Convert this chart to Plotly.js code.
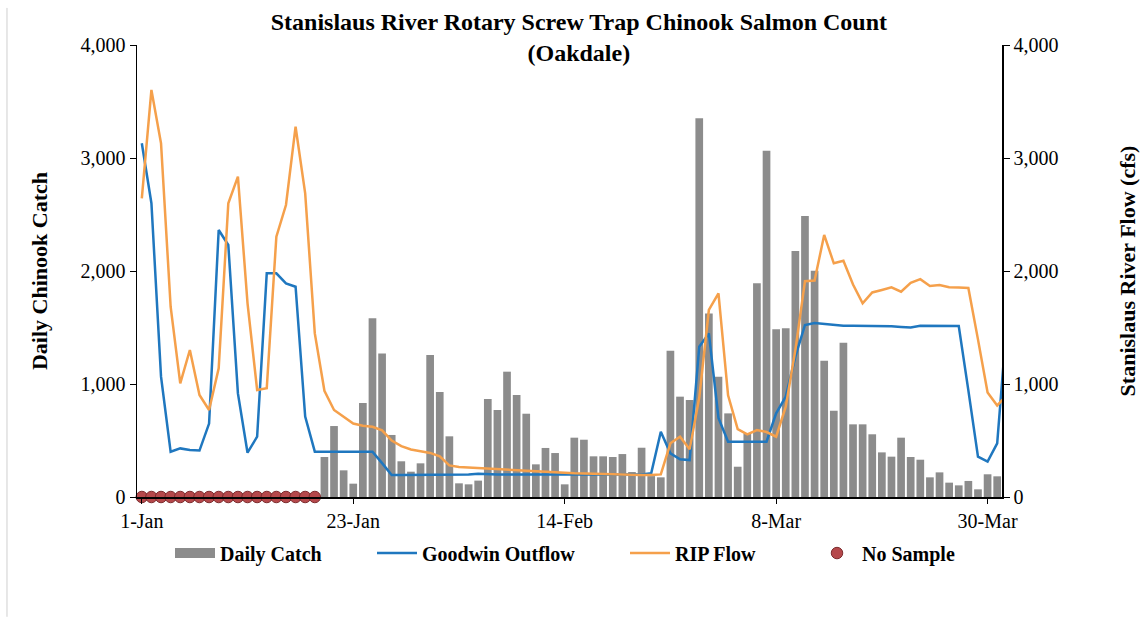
<!DOCTYPE html>
<html>
<head>
<meta charset="utf-8">
<script src="https://cdn.plot.ly/plotly-3.0.1.min.js"></script>
<style>
  html, body { margin: 0; padding: 0; background: #ffffff; }
  #chart { width: 1144px; height: 618px; }
</style>
</head>
<body>
<div id="chart"></div>
<script>
// ---- Data ----
// Flow series start on 1-Jan (one value per day), catch starts on 20-Jan.
const flowStart = '2021-01-01';
const catchStart = '2021-01-20';
const noSampleStart = '2021-01-01';
const noSampleDays = 19;

const dailyCatch = [
  354, 628, 236, 118, 832, 1581, 1271, 549, 316, 224,
  298, 1257, 929, 537, 121, 112, 145, 867, 770, 1109,
  903, 737, 289, 434, 389, 112, 525, 507, 360, 360,
  354, 380, 221, 436, 185, 174, 1295, 888, 858, 3351,
  1625, 1065, 740, 268, 563, 1891, 3065, 1484, 1493, 2177,
  2487, 2003, 1206, 764, 1366, 643, 643, 555, 395, 357,
  525, 354, 330, 174, 218, 127, 103, 142, 68, 201,
  183
];

const goodwinOutflow = [
  3130, 2600, 1065, 400, 430, 416, 411, 650, 2363, 2230,
  917, 392, 534, 1979, 1979, 1891, 1861, 711, 401, 401,
  401, 401, 401, 401, 400, 300, 195, 195, 195, 195,
  195, 195, 195, 198, 200, 205, 200, 200, 200, 200,
  200, 200, 200, 200, 200, 200, 200, 200, 200, 200,
  200, 200, 200, 210, 578, 386, 333, 327, 1330, 1448,
  700, 490, 490, 490, 490, 490, 740, 888, 1242, 1522,
  1540, 1530, 1520, 1515, 1515, 1515, 1515, 1510, 1510, 1505,
  1500, 1515, 1515, 1515, 1515, 1513, 944, 357, 313, 475,
  1550
];

const ripFlow = [
  2643, 3602, 3130, 1684, 1006, 1301, 903, 770, 1139, 2599,
  2835, 1714, 947, 962, 2304, 2584, 3277, 2687, 1448, 940,
  770, 710, 650, 630, 622, 590, 500, 450, 420, 405,
  390, 360, 280, 265, 260, 255, 250, 245, 240, 235,
  230, 225, 220, 215, 212, 210, 208, 205, 203, 200,
  198, 197, 195, 195, 200, 475, 534, 422, 880, 1655,
  1802, 900, 600, 555, 593, 575, 534, 800, 1300, 1910,
  1915, 2319, 2068, 2090, 1880, 1714, 1810, 1832, 1856, 1817,
  1895, 1928, 1867, 1876, 1856, 1855, 1850, 1395, 925, 810,
  900
];

const xTickDates = ['2021-01-01', '2021-01-23', '2021-02-14', '2021-03-08', '2021-03-30'];
const yTicks = [0, 1000, 2000, 3000, 4000];

// ---- helpers: consecutive daily date labels ----
function dailyDates(start, n) {
  const out = [];
  const d0 = new Date(start + 'T00:00:00Z');
  for (let i = 0; i < n; i++) {
    const d = new Date(d0.getTime() + i * 86400000);
    out.push(d.toISOString().slice(0, 10));
  }
  return out;
}

const serif = 'Liberation Serif, Times New Roman, serif';
const catchColor = '#8c8c8c';
const legendFont = { family: serif, size: 20, color: '#000', weight: 'bold' };

const traces = [
  {
    type: 'bar',
    name: 'Daily Catch',
    x: dailyDates(catchStart, dailyCatch.length),
    y: dailyCatch,
    marker: { color: catchColor },
    showlegend: false,
    yaxis: 'y'
  },
  {
    // legend entry only (wide flat swatch like the reference)
    type: 'scatter',
    mode: 'lines',
    name: 'Daily Catch',
    x: [null],
    y: [null],
    line: { color: catchColor, width: 10 },
    legend: 'legend',
    hoverinfo: 'skip'
  },
  {
    type: 'scatter',
    mode: 'lines',
    name: 'Goodwin Outflow',
    x: dailyDates(flowStart, goodwinOutflow.length),
    y: goodwinOutflow,
    line: { color: '#1f77bf', width: 2.5 },
    yaxis: 'y2',
    legend: 'legend2'
  },
  {
    type: 'scatter',
    mode: 'lines',
    name: 'RIP Flow',
    x: dailyDates(flowStart, ripFlow.length),
    y: ripFlow,
    line: { color: '#f5a04b', width: 2.5 },
    yaxis: 'y2',
    legend: 'legend3'
  },
  {
    type: 'scatter',
    mode: 'markers',
    name: 'No Sample',
    x: dailyDates(noSampleStart, noSampleDays),
    y: new Array(noSampleDays).fill(0),
    marker: { color: '#b5484b', size: 11.5, line: { color: '#7d2c2e', width: 1 } },
    cliponaxis: false,
    yaxis: 'y',
    legend: 'legend4'
  }
];

const axisCommon = {
  range: [0, 4000],
  tickvals: yTicks,
  tickformat: ',',
  ticks: 'outside',
  ticklen: 6,
  tickcolor: '#000',
  showline: true,
  linecolor: '#000',
  linewidth: 1.5,
  showgrid: false,
  zeroline: false,
  tickfont: { family: serif, size: 20, color: '#000' }
};

function legendAt(px) {
  return {
    orientation: 'h',
    x: (px - 137) / 865, xanchor: 'left',
    y: -0.124, yanchor: 'middle',
    font: legendFont,
    itemwidth: 40,
    bgcolor: 'rgba(0,0,0,0)'
  };
}

const layout = {
  width: 1144,
  height: 618,
  margin: { l: 137, r: 142, t: 45, b: 121 },
  paper_bgcolor: '#ffffff',
  plot_bgcolor: '#ffffff',
  showlegend: true,
  bargap: 0.2,
  title: {
    text: 'Stanislaus River Rotary Screw Trap Chinook Salmon Count<br>(Oakdale)',
    font: { family: serif, size: 24, color: '#000', weight: 'bold' },
    xref: 'container', x: 0.506, xanchor: 'center',
    yref: 'container', y: 0.952, yanchor: 'middle'
  },
  xaxis: {
    type: 'date',
    range: ['2020-12-31 12:00', '2021-03-31 12:00'],
    tickvals: xTickDates,
    tickformat: '%-d-%b',
    ticks: 'outside',
    ticklen: 5,
    tickcolor: '#000',
    showline: true,
    linecolor: '#000',
    linewidth: 1.5,
    showgrid: false,
    zeroline: false,
    tickfont: { family: serif, size: 20, color: '#000' }
  },
  yaxis: Object.assign({}, axisCommon, {
    title: { text: 'Daily Chinook Catch', font: { family: serif, size: 22, color: '#000', weight: 'bold' }, standoff: 27 }
  }),
  yaxis2: Object.assign({}, axisCommon, {
    overlaying: 'y',
    side: 'right',
    title: { text: 'Stanislaus River Flow (cfs)', font: { family: serif, size: 22, color: '#000', weight: 'bold' }, standoff: 62 }
  }),
  legend: legendAt(170),
  legend2: legendAt(372),
  legend3: legendAt(625),
  legend4: legendAt(812),
  shapes: [
    {
      type: 'line', xref: 'paper', yref: 'paper',
      x0: -0.1503, x1: -0.1503, y0: 1.082, y1: -0.265,
      line: { color: '#cfcfcf', width: 1 }
    }
  ]
};

Plotly.newPlot('chart', traces, layout, { displayModeBar: false, staticPlot: true });
</script>
</body>
</html>
